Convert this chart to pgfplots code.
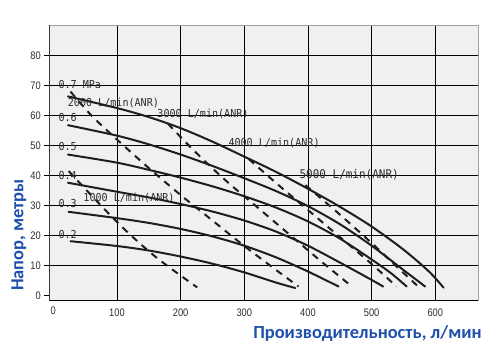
\documentclass[border=0pt]{standalone}
\usepackage{fontspec}
\usepackage{pgfplots}
\pgfplotsset{compat=1.18}
\newfontfamily\monofont[FakeStretch=0.92]{DejaVu Sans Mono}
\newfontfamily\ticksfont[FakeStretch=0.85]{Liberation Sans}
\newfontfamily\labelfont{Carlito}
\definecolor{bgcol}{RGB}{240,240,240}
\definecolor{framegray}{RGB}{160,160,160}
\definecolor{curvecol}{RGB}{30,30,30}
\definecolor{textgray}{RGB}{45,45,45}
\definecolor{labelblue}{RGB}{30,80,170}
\begin{document}
\begin{tikzpicture}
\path[use as bounding box] (-49.3bp,-55bp) rectangle (452.7bp,300bp);
\begin{axis}[
  at={(0,0)}, anchor=south west,
  scale only axis, width=429bp, height=275bp,
  xmin=-6.3, xmax=667.5, ymin=-1.5, ymax=90.2,
  axis background/.style={fill=bgcol},
  axis line style={draw=framegray, line width=0.8bp},
  xtick={100,200,...,600}, ytick={10,20,...,80},
  grid=major, major grid style={black, line width=0.7bp},
  xtick style={draw=none},
  ytick style={black, line width=0.7bp},
  tick align=outside, ytick pos=left, xtick pos=bottom,
  major tick length=5bp,
  extra y ticks={0}, extra y tick style={grid=none},
  extra x ticks={0,667.5}, extra x tick labels={0,{}},
  extra x tick style={grid=none, major tick length=3bp, tick style={draw=black, line width=0.7bp}},
  /pgf/number format/assume math mode=true,
  tick label style={font=\ticksfont\fontsize{11}{12}\selectfont, text=textgray},
  solid curve/.style={curvecol, line width=2bp, smooth, tension=0.5, line cap=round},
  dash curve/.style={curvecol, line width=2bp, smooth, tension=0.5, dash pattern=on 7bp off 6bp},
]
% pressure curves (MPa)
\addplot[solid curve] coordinates {(23,66.4) (100,62.5) (150,59.5) (200,55.8) (250,51.3) (300,46.3) (350,41.2) (400,35.6) (450,29.6) (500,23) (550,15.3) (590,8) (613,2.6)};
\addplot[solid curve] coordinates {(23,56.8) (100,53.3) (150,50.4) (200,47) (250,43.2) (300,39.1) (350,34.8) (400,29.8) (450,23.8) (500,16.6) (550,8.5) (584,3)};
\addplot[solid curve] coordinates {(23,47) (100,44.3) (150,41.9) (200,39.3) (250,36.4) (300,33.1) (350,29.3) (400,24.7) (450,19) (500,12) (530,7.5) (555,3)};
\addplot[solid curve] coordinates {(23,37.6) (100,34.6) (150,32.7) (200,30.5) (250,28) (300,25) (350,21.3) (400,16.6) (450,11) (500,5.2) (518,3)};
\addplot[solid curve] coordinates {(24,27.9) (100,25.8) (150,24.2) (200,22.2) (250,19.7) (300,16.6) (350,12.7) (400,8) (448,3)};
\addplot[solid curve] coordinates {(27,18.1) (100,16.5) (150,15) (200,13) (250,10.6) (300,7.7) (350,4.3) (380,2.5)};
% air consumption lines (L/min ANR)
\addplot[dash curve] coordinates {(24,41.5) (100,24.5) (160,13) (226,2.7)};
\addplot[dash curve] coordinates {(27,68) (60,60) (100,52) (150,42.5) (200,33.5) (250,25) (300,16.5) (350,8.5) (385,3)};
\addplot[dash curve] coordinates {(180,57.3) (220,48.5) (270,38.5) (320,29.5) (370,20.5) (420,11.5) (469,3)};
\addplot[dash curve] coordinates {(307,45.5) (350,37.5) (400,28.5) (450,19.5) (500,10.5) (539,3)};
\addplot[dash curve] coordinates {(396,36.8) (450,27) (500,17.5) (540,9.5) (573,3)};
% labels
\begin{scope}[every node/.style={anchor=base west, inner sep=0pt, text=textgray, font=\monofont\fontsize{11}{11}\selectfont}]
\node at (axis cs:7.9,69) {0.7 MPa};
\node at (axis cs:7.9,57.9) {0.6};
\node at (axis cs:7.9,48.5) {0.5};
\node at (axis cs:7.9,38.7) {0.4};
\node at (axis cs:7.9,29.3) {0.3};
\node at (axis cs:7.9,19.1) {0.2};
\node at (axis cs:22.6,62.9) {2000 L/min(ANR)};
\node at (axis cs:163.3,59.3) {3000 L/min(ANR)};
\node at (axis cs:274.9,49.8) {4000 L/min(ANR)};
\node at (axis cs:47.1,31.3) {1000 L/min(ANR)};
\node[font=\monofont\fontsize{12}{12}\selectfont] at (axis cs:386.4,39.1) {5000 L/min(ANR)};
\end{scope}
\draw[black, line width=0.9bp] (rel axis cs:0,1) -- (rel axis cs:0,0) -- (rel axis cs:1,0);
\end{axis}
\node[anchor=base, font=\labelfont\bfseries\fontsize{18.5}{18.5}\selectfont, text=labelblue] at (318.2bp,-38.3bp) {Производительность, л/мин};
\node[rotate=90, anchor=base, font=\labelfont\bfseries\fontsize{18.5}{18.5}\selectfont, text=labelblue] at (-26bp,65bp) {Напор, метры};
\end{tikzpicture}
\end{document}
